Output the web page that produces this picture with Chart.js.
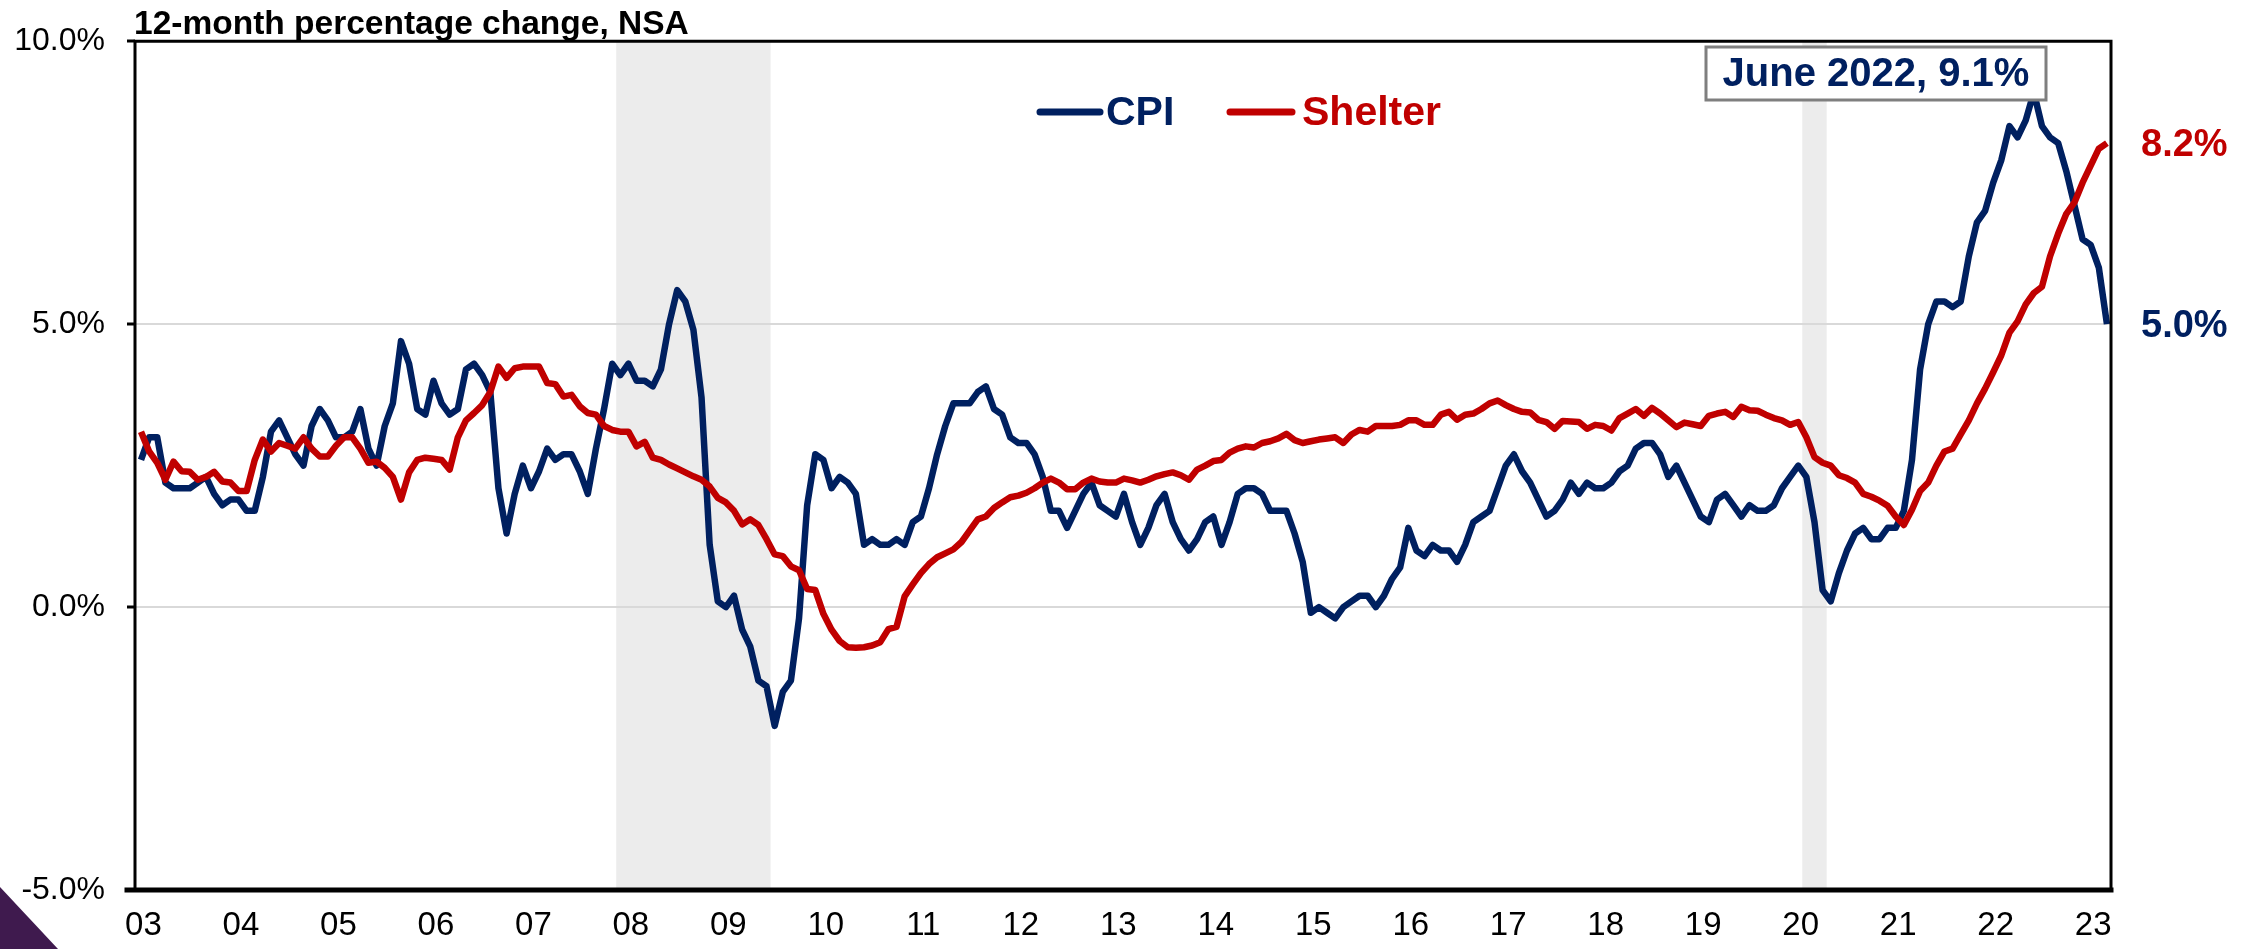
<!DOCTYPE html>
<html lang="en">
<head>
<meta charset="UTF-8">
<title>CPI vs Shelter, 12-month percentage change</title>
<script src="https://cdn.jsdelivr.net/npm/chart.js"></script>
<style>
  html, body { margin: 0; padding: 0; background: #fff; }
  #wrap { position: relative; width: 2253px; height: 949px; overflow: hidden; }
  #corner { position: absolute; left: 0; bottom: 0; width: 58px; height: 62px; background: #3f1a4e;
            clip-path: polygon(0 0, 100% 100%, 0 100%); }
</style>
</head>
<body>
<div id="wrap">
  <canvas id="chart" width="2253" height="949"></canvas>
  <div id="corner"></div>
</div>
<script>
// monthly series, Jan 2003 .. Mar 2023
const startYear = 2003;
const yearLabels = ['03','04','05','06','07','08','09','10','11','12','13','14','15','16','17','18','19','20','21','22','23'];
const yTickValues = [-5, 0, 5, 10];
const yTickLabels = ['-5.0%', '0.0%', '5.0%', '10.0%'];

const cpi = [
  2.6, 3.0, 3.0, 2.2, 2.1, 2.1, 2.1, 2.2, 2.3, 2.0, 1.8, 1.9,
  1.9, 1.7, 1.7, 2.3, 3.1, 3.3, 3.0, 2.7, 2.5, 3.2, 3.5, 3.3,
  3.0, 3.0, 3.1, 3.5, 2.8, 2.5, 3.2, 3.6, 4.7, 4.3, 3.5, 3.4,
  4.0, 3.6, 3.4, 3.5, 4.2, 4.3, 4.1, 3.8, 2.1, 1.3, 2.0, 2.5,
  2.1, 2.4, 2.8, 2.6, 2.7, 2.7, 2.4, 2.0, 2.8, 3.5, 4.3, 4.1,
  4.3, 4.0, 4.0, 3.9, 4.2, 5.0, 5.6, 5.4, 4.9, 3.7, 1.1, 0.1,
  0.0, 0.2, -0.4, -0.7, -1.3, -1.4, -2.1, -1.5, -1.3, -0.2, 1.8, 2.7,
  2.6, 2.1, 2.3, 2.2, 2.0, 1.1, 1.2, 1.1, 1.1, 1.2, 1.1, 1.5,
  1.6, 2.1, 2.7, 3.2, 3.6, 3.6, 3.6, 3.8, 3.9, 3.5, 3.4, 3.0,
  2.9, 2.9, 2.7, 2.3, 1.7, 1.7, 1.4, 1.7, 2.0, 2.2, 1.8, 1.7,
  1.6, 2.0, 1.5, 1.1, 1.4, 1.8, 2.0, 1.5, 1.2, 1.0, 1.2, 1.5,
  1.6, 1.1, 1.5, 2.0, 2.1, 2.1, 2.0, 1.7, 1.7, 1.7, 1.3, 0.8,
  -0.1, 0.0, -0.1, -0.2, 0.0, 0.1, 0.2, 0.2, 0.0, 0.2, 0.5, 0.7,
  1.4, 1.0, 0.9, 1.1, 1.0, 1.0, 0.8, 1.1, 1.5, 1.6, 1.7, 2.1,
  2.5, 2.7, 2.4, 2.2, 1.9, 1.6, 1.7, 1.9, 2.2, 2.0, 2.2, 2.1,
  2.1, 2.2, 2.4, 2.5, 2.8, 2.9, 2.9, 2.7, 2.3, 2.5, 2.2, 1.9,
  1.6, 1.5, 1.9, 2.0, 1.8, 1.6, 1.8, 1.7, 1.7, 1.8, 2.1, 2.3,
  2.5, 2.3, 1.5, 0.3, 0.1, 0.6, 1.0, 1.3, 1.4, 1.2, 1.2, 1.4,
  1.4, 1.7, 2.6, 4.2, 5.0, 5.4, 5.4, 5.3, 5.4, 6.2, 6.8, 7.0,
  7.5, 7.9, 8.5, 8.3, 8.6, 9.1, 8.5, 8.3, 8.2, 7.7, 7.1, 6.5,
  6.4, 6.0, 5.0
];

const shelter = [
  3.1, 2.75, 2.55, 2.25, 2.57, 2.4, 2.39, 2.25, 2.3, 2.39, 2.22, 2.2,
  2.05, 2.05, 2.6, 2.96, 2.75, 2.9, 2.85, 2.8, 3.0, 2.8, 2.66, 2.66,
  2.85, 3.0, 3.0, 2.8, 2.55, 2.57, 2.46, 2.3, 1.9, 2.38, 2.6, 2.64,
  2.62, 2.6, 2.43, 3.0, 3.3, 3.43, 3.57, 3.8, 4.25, 4.05, 4.22, 4.25,
  4.25, 4.25, 3.96, 3.94, 3.72, 3.75, 3.55, 3.43, 3.4, 3.2, 3.13, 3.1,
  3.1, 2.84, 2.92, 2.64, 2.6, 2.52, 2.45, 2.38, 2.31, 2.25, 2.13, 1.93,
  1.85, 1.7, 1.46, 1.55, 1.45, 1.2, 0.93, 0.9, 0.72, 0.65, 0.32, 0.3,
  -0.12, -0.4, -0.6, -0.71, -0.72, -0.71, -0.68, -0.62, -0.39, -0.35, 0.19, 0.4,
  0.6, 0.76, 0.88, 0.95, 1.02, 1.15, 1.35, 1.55, 1.6, 1.75, 1.85, 1.94,
  1.97, 2.02, 2.1, 2.2, 2.27, 2.2, 2.08, 2.08, 2.2, 2.27, 2.22, 2.2,
  2.2, 2.27, 2.24, 2.2, 2.25, 2.31, 2.35, 2.38, 2.33, 2.25, 2.43, 2.5,
  2.58, 2.6, 2.73, 2.8, 2.84, 2.82, 2.9, 2.93, 2.98, 3.06, 2.95, 2.9,
  2.93, 2.96, 2.98, 3.0, 2.9, 3.05, 3.13, 3.1, 3.2, 3.2, 3.2, 3.22,
  3.3, 3.3, 3.22, 3.22, 3.4, 3.45, 3.31, 3.4, 3.42, 3.5, 3.6, 3.65,
  3.57, 3.5, 3.45, 3.44, 3.31, 3.27, 3.15, 3.29, 3.28, 3.27, 3.15, 3.22,
  3.2, 3.12, 3.34, 3.42, 3.5, 3.38, 3.52, 3.42, 3.3, 3.18, 3.26, 3.23,
  3.2, 3.38, 3.42, 3.45, 3.36, 3.54, 3.48, 3.47, 3.4, 3.34, 3.3, 3.22,
  3.27, 3.0, 2.65, 2.55, 2.5, 2.33, 2.28, 2.2, 2.0, 1.95, 1.88, 1.79,
  1.6, 1.45, 1.72, 2.05, 2.2, 2.5, 2.75, 2.8, 3.05, 3.3, 3.6, 3.86,
  4.15, 4.45, 4.85, 5.05, 5.35, 5.55, 5.66, 6.2, 6.6, 6.95, 7.15, 7.5,
  7.8, 8.1, 8.2
];

// recessions: [start year, start month, end year, end month]
const recessions = [[2007, 12, 2009, 6], [2020, 2, 2020, 4]];
const peakNote = 'June 2022, 9.1%';
const axisTitle = '12-month percentage change, NSA';

const NAVY = '#002060';
const RED = '#C00000';
const FONT = "'Liberation Sans', Arial, sans-serif";

function monthIndex(y, m) { return (y - startYear) * 12 + (m - 1); }

const shadePlugin = {
  id: 'shade',
  beforeDraw(chart) {
    const { ctx, chartArea: a, scales: { x } } = chart;
    ctx.save();
    ctx.fillStyle = '#ececec';
    recessions.forEach(r => {
      const x0 = x.getPixelForValue(monthIndex(r[0], r[1]) - 0.5);
      const x1 = x.getPixelForValue(monthIndex(r[2], r[3]) + 0.5);
      ctx.fillRect(x0, a.top, x1 - x0, a.bottom - a.top);
    });
    ctx.restore();
  }
};

const framePlugin = {
  id: 'frame',
  afterDraw(chart) {
    const { ctx, chartArea: a, scales: { y } } = chart;
    ctx.save();
    ctx.strokeStyle = '#000';
    ctx.lineCap = 'square';
    ctx.lineWidth = 3;
    ctx.beginPath();
    ctx.moveTo(a.left, a.bottom); ctx.lineTo(a.left, a.top); ctx.lineTo(a.right, a.top); ctx.lineTo(a.right, a.bottom);
    ctx.stroke();
    ctx.lineWidth = 5;
    ctx.beginPath();
    ctx.moveTo(a.left - 8, a.bottom); ctx.lineTo(a.right, a.bottom);
    ctx.stroke();

    // axis title
    ctx.fillStyle = '#000';
    ctx.font = "bold 33.5px " + FONT;
    ctx.textAlign = 'left';
    ctx.textBaseline = 'alphabetic';
    ctx.fillText(axisTitle, 134, 34);

    // legend
    const legendItems = [
      { label: 'CPI', color: NAVY, x0: 1040, x1: 1100, tx: 1106 },
      { label: 'Shelter', color: RED, x0: 1230, x1: 1292, tx: 1302 }
    ];
    ctx.font = "bold 41px " + FONT;
    ctx.textBaseline = 'middle';
    ctx.lineCap = 'round';
    legendItems.forEach(it => {
      ctx.strokeStyle = it.color;
      ctx.lineWidth = 7;
      ctx.beginPath(); ctx.moveTo(it.x0, 112); ctx.lineTo(it.x1, 112); ctx.stroke();
      ctx.fillStyle = it.color;
      ctx.fillText(it.label, it.tx, 114);
    });

    // peak note box
    ctx.fillStyle = '#fff';
    ctx.fillRect(1706, 47, 340, 53);
    ctx.strokeStyle = '#7f7f7f';
    ctx.lineWidth = 3;
    ctx.lineCap = 'butt';
    ctx.strokeRect(1706, 47, 340, 53);
    ctx.fillStyle = NAVY;
    ctx.font = "bold 40px " + FONT;
    ctx.textAlign = 'center';
    ctx.fillText(peakNote, 1876, 75);

    // end labels
    ctx.textAlign = 'left';
    ctx.font = "bold 38px " + FONT;
    const lastS = shelter[shelter.length - 1], lastC = cpi[cpi.length - 1];
    ctx.fillStyle = RED;
    ctx.fillText(lastS.toFixed(1) + '%', 2141, y.getPixelForValue(lastS) + 2);
    ctx.fillStyle = NAVY;
    ctx.fillText(lastC.toFixed(1) + '%', 2141, y.getPixelForValue(lastC) + 2);
    ctx.restore();
  }
};

const toPoints = arr => arr.map((v, i) => ({ x: i, y: v }));

new Chart(document.getElementById('chart'), {
  type: 'line',
  data: {
    datasets: [
      { label: 'Shelter', data: toPoints(shelter), borderColor: RED, borderWidth: 6.5, pointRadius: 0, tension: 0, borderJoinStyle: 'round', order: 1 },
      { label: 'CPI', data: toPoints(cpi), borderColor: NAVY, borderWidth: 6.5, pointRadius: 0, tension: 0, borderJoinStyle: 'round', order: 2 }
    ]
  },
  options: {
    responsive: false,
    animation: false,
    devicePixelRatio: 1,
    layout: { padding: { left: 0, right: 142, top: 41, bottom: 0 } },
    plugins: { legend: { display: false }, tooltip: { enabled: false }, title: { display: false } },
    scales: {
      x: {
        type: 'linear', min: -0.74, max: 242.5,
        afterFit: s => { s.height = 59; },
        afterBuildTicks: s => { s.ticks = yearLabels.map((l, i) => ({ value: i * 12 + 0.3 })); },
        ticks: {
          callback: v => yearLabels[Math.round(v / 12)],
          font: { family: FONT, size: 33 }, color: '#000', padding: 8,
          maxRotation: 0, autoSkip: false
        },
        grid: { display: false },
        border: { display: false }
      },
      y: {
        min: -5, max: 10,
        afterFit: s => { s.width = 135; },
        afterBuildTicks: s => { s.ticks = yTickValues.map(v => ({ value: v })); },
        ticks: {
          callback: v => yTickLabels[yTickValues.indexOf(v)],
          font: { family: FONT, size: 32 }, color: '#000', padding: 22
        },
        grid: { color: '#d9d9d9', lineWidth: 2, tickColor: '#000', tickLength: 8, tickWidth: 3 },
        border: { display: false }
      }
    }
  },
  plugins: [shadePlugin, framePlugin]
});
</script>
</body>
</html>
